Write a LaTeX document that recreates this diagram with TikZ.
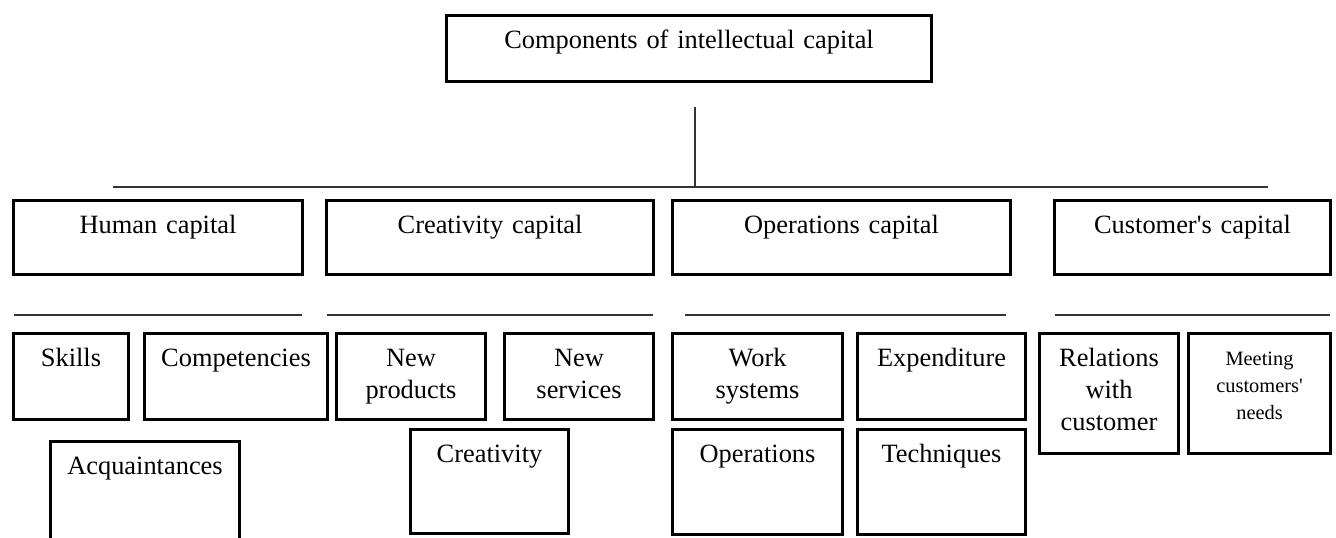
\documentclass[tikz,border=0pt]{standalone}
\usepackage{fontspec}
\setmainfont{Liberation Serif}
\usepackage{tikz}
\usetikzlibrary{positioning}

\begin{document}
\begin{tikzpicture}[x=0.5pt, y=-0.5pt,
	font=\fontsize{13.2}{16}\selectfont,
	capbox/.style 2 args={draw, line width=1.5pt, inner sep=0pt, outer sep=0pt, anchor=north west,
		align=center, text height=16.5pt, text width=#1, text depth=#2},
	thinrule/.style={draw=black!80, line width=0.7pt}]

		% frame %
		\clip (0,0) rectangle (1336,537);

		% nodes - top and main components %
		\node[capbox={242.5pt}{16.5pt}] (ic) at (446.5,15.5) {Components of intellectual capital};
		\node[capbox={144.5pt}{20.5pt}] (human) at (13.5,200.5) {Human capital};
		\node[capbox={163.5pt}{20.5pt}] (creat) at (326.5,200.5) {Creativity capital};
		\node[capbox={169pt}{20.5pt}] (oper) at (672.5,200.5) {Operations capital};
		\node[capbox={138pt}{20.5pt}] (cust) at (1054.5,200.5) {Customer\textquotesingle s capital};

		% nodes - human capital %
		\node[capbox={57.5pt}{26.5pt}] (skills) at (13.5,333.5) {Skills};
		\node[capbox={91.5pt}{26.5pt}] (compet) at (144.5,333.5) {Competencies};
		\node[capbox={94.5pt}{45pt}] (acq) at (50.5,441.5) {Acquaintances};

		% nodes - creativity capital %
		\node[capbox={74.5pt}{26.5pt}] (newprod) at (336.5,333.5) {New\\products};
		\node[capbox={74.5pt}{26.5pt}] (newserv) at (504.5,333.5) {New\\services};
		\node[capbox={79pt}{35.5pt}] (creativity) at (410.5,429.5) {Creativity};

		% nodes - operations capital %
		\node[capbox={85pt}{26.5pt}] (worksys) at (672.5,333.5) {Work\\systems};
		\node[capbox={84pt}{26.5pt}] (expend) at (857.5,333.5) {Expenditure};
		\node[capbox={85pt}{36pt}] (operations) at (672.5,429.5) {Operations};
		\node[capbox={84pt}{36pt}] (techn) at (857.5,429.5) {Techniques};

		% nodes - customer's capital %
		\node[capbox={69.5pt}{43.5pt}] (relcust) at (1039.5,333.5) {Relations\\with\\customer};
		\node[capbox={71pt}{44.25pt}, text height=15.75pt, font=\fontsize{10.2}{13.5}\selectfont]
			(meetneeds) at (1188.5,333.5) {Meeting\\customers\textquotesingle\\needs};

		% edges %
		\coordinate (stemtop) at (695,107);
		\coordinate (stembot) at (695,187);
		\coordinate (barl) at (113,187);
		\coordinate (barr) at (1268,187);
		\draw[thinrule] (stemtop) -- (stembot);
		\draw[thinrule] (barl) -- (barr);

		% rules under the main components %
		\foreach \xa/\xb in {14/302, 327/653, 685/1006, 1055/1330}
			\draw[thinrule] (\xa,315) -- (\xb,315);

\end{tikzpicture}
\end{document}
